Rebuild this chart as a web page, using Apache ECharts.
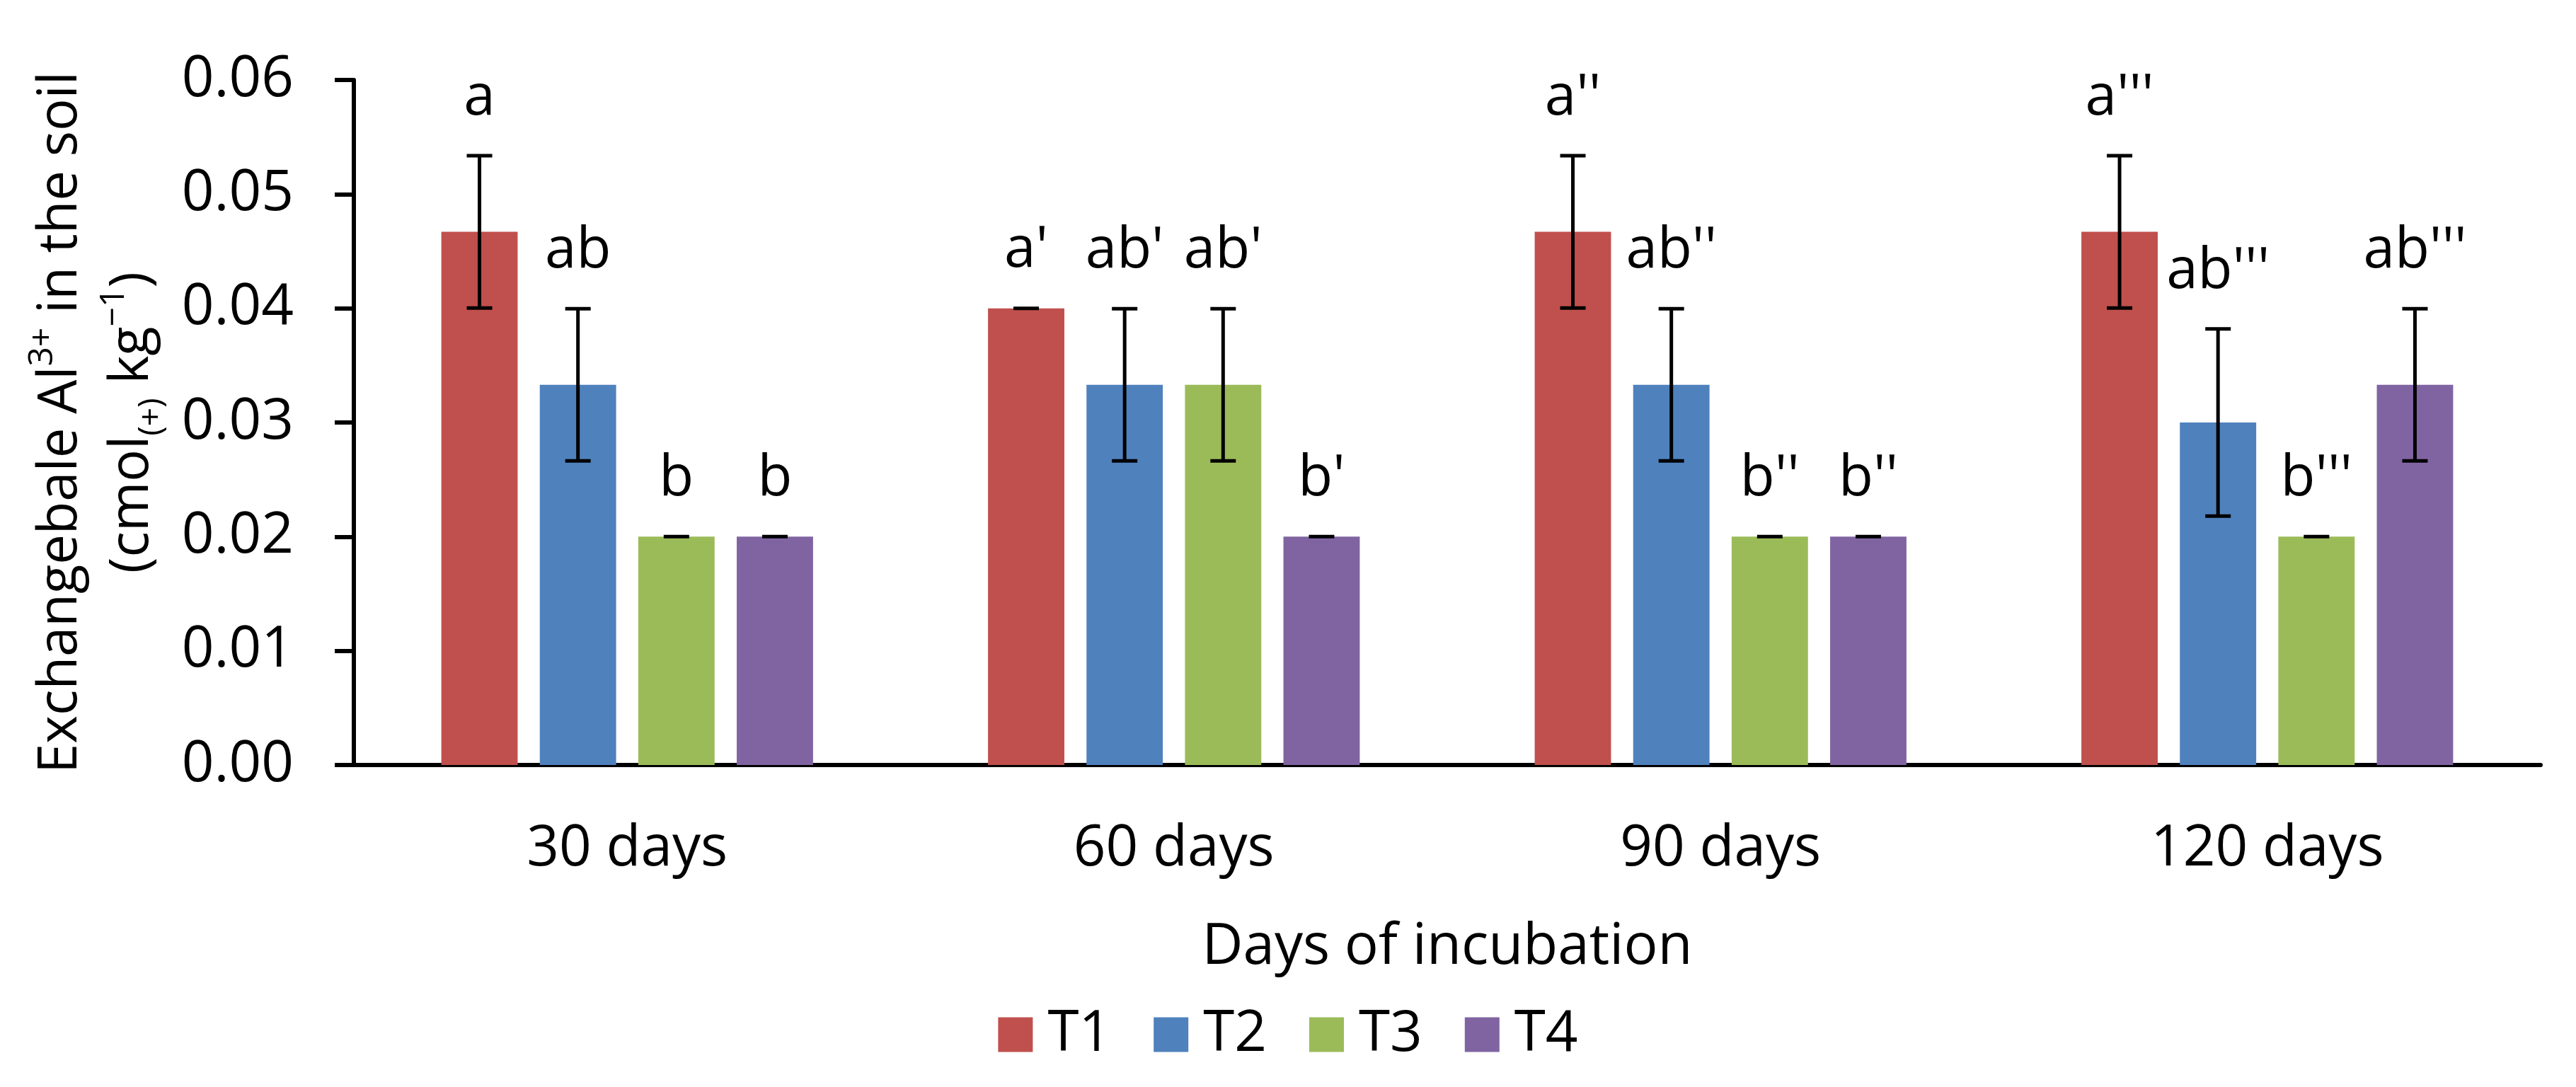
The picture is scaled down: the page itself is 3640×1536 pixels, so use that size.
<!DOCTYPE html>
<html>
<head>
<meta charset="utf-8">
<script src="https://cdn.jsdelivr.net/npm/echarts@6/dist/echarts.min.js"></script>
<style>
html,body{margin:0;padding:0;background:#fff;}
#c{width:3640px;height:1536px;}
</style>
</head>
<body>
<div id="c"></div>
<script>
const categories = ['30 days', '60 days', '90 days', '120 days'];
const seriesNames = ['T1', 'T2', 'T3', 'T4'];
const t1Values = [0.0467, 0.0400, 0.0467, 0.0467];
const t2Values = [0.0333, 0.0333, 0.0333, 0.0300];
const t3Values = [0.0200, 0.0333, 0.0200, 0.0200];
const t4Values = [0.0200, 0.0200, 0.0200, 0.0333];
const t1Errors = [0.00667, 0, 0.00667, 0.00667];
const t2Errors = [0.00667, 0.00667, 0.00667, 0.0082];
const t3Errors = [0, 0.00667, 0, 0];
const t4Errors = [0, 0, 0, 0.00667];
const t1Letters = ["a", "a'", "a''", "a'''"];
const t2Letters = ["ab", "ab'", "ab''", "ab'''"];
const t3Letters = ["b", "ab'", "b''", "b'''"];
const t4Letters = ["b", "b'", "b''", "ab'''"];
const yTicks = [0, 0.01, 0.02, 0.03, 0.04, 0.05, 0.06];

const colors = ['#C0504D', '#4F81BD', '#9BBB59', '#8064A2'];
const allValues = [t1Values, t2Values, t3Values, t4Values];
const allErrors = [t1Errors, t2Errors, t3Errors, t4Errors];
const allLetters = [t1Letters, t2Letters, t3Letters, t4Letters];

const FONT = "'Open Sans', 'Noto Sans', sans-serif";
const CAT_GAP = 0.32, BAR_GAP = 0.29, N = 4;

const chart = echarts.init(document.getElementById('c'));

const series = [];
seriesNames.forEach((name, i) => {
  series.push({
    name: name,
    type: 'bar',
    data: allValues[i],
    itemStyle: { color: colors[i] },
    barCategoryGap: (CAT_GAP * 100) + '%',
    barGap: (BAR_GAP * 100) + '%',
    animation: false
  });
});
seriesNames.forEach((name, i) => {
  series.push({
    name: 'err' + name,
    type: 'custom',
    data: categories.map((c, j) => [j, allValues[i][j], allErrors[i][j], allLetters[i][j]]),
    encode: { x: 0, y: 1 },
    z: 10,
    silent: true,
    animation: false,
    renderItem: function (params, api) {
      const idx = api.value(0);
      const v = api.value(1);
      const e = api.value(2);
      const letter = allLetters[i][params.dataIndex];
      const band = api.size([1, 0])[0];
      const remained = band * (1 - CAT_GAP);
      const w = remained / (N + (N - 1) * BAR_GAP);
      const off = -remained / 2 + w / 2 + i * w * (1 + BAR_GAP);
      const hi = api.coord([idx, v + e]);
      const lo = api.coord([idx, v - e]);
      const cx = hi[0] + off;
      const cap = 18;
      const st = { stroke: '#000', lineWidth: 5 };
      const children = [];
      if (e > 0) {
        children.push({ type: 'line', shape: { x1: cx, y1: hi[1], x2: cx, y2: lo[1] }, style: st });
        children.push({ type: 'line', shape: { x1: cx - cap, y1: lo[1], x2: cx + cap, y2: lo[1] }, style: st });
      }
      children.push({ type: 'line', shape: { x1: cx - cap, y1: hi[1], x2: cx + cap, y2: hi[1] }, style: st });
      children.push({
        type: 'text',
        x: cx,
        y: hi[1] - 41,
        style: {
          text: letter,
          fill: '#000',
          font: '80px ' + FONT,
          textAlign: 'center',
          textVerticalAlign: 'bottom'
        }
      });
      return { type: 'group', children: children };
    }
  });
});

const option = {
  backgroundColor: '#ffffff',
  animation: false,
  textStyle: { fontFamily: FONT },
  grid: { left: 500, right: 50, top: 113, bottom: 455, containLabel: false },
  legend: {
    data: seriesNames,
    left: 'center',
    top: 1417,
    icon: 'rect',
    itemWidth: 49,
    itemHeight: 49,
    itemGap: 60,
    textStyle: { fontSize: 80, color: '#000', fontFamily: FONT, padding: [0, 0, 0, 16] }
  },
  xAxis: {
    type: 'category',
    data: categories,
    axisLine: { show: true, lineStyle: { color: '#000', width: 6 } },
    axisTick: { show: false },
    axisLabel: { fontSize: 80, color: '#000', margin: 79, fontFamily: FONT },
    name: 'Days of incubation',
    nameLocation: 'middle',
    nameGap: 218,
    nameTextStyle: { fontSize: 80, color: '#000', fontFamily: FONT },
    splitLine: { show: false }
  },
  yAxis: {
    type: 'value',
    min: yTicks[0],
    max: yTicks[yTicks.length - 1],
    interval: 0.01,
    axisLine: { show: true, lineStyle: { color: '#000', width: 6 } },
    axisTick: { show: true, inside: false, length: 27, lineStyle: { color: '#000', width: 6 } },
    axisLabel: { fontSize: 80, color: '#000', margin: 85, fontFamily: FONT, formatter: v => v.toFixed(2) },
    splitLine: { show: false },
    name: '{a|Exchangebale Al}{sup|3+}{a| in the soil}\n{a|(cmol}{sub|(+)}{a| kg}{sup|−1}{a|)}',
    nameLocation: 'middle',
    nameRotate: 90,
    nameGap: 262,
    nameTextStyle: {
      color: '#000',
      fontFamily: FONT,
      rich: {
        a: { fontSize: 76, lineHeight: 101, color: '#000', fontFamily: FONT, verticalAlign: 'middle' },
        sup: { fontSize: 48, lineHeight: 48, color: '#000', fontFamily: FONT, verticalAlign: 'top' },
        sub: { fontSize: 46, lineHeight: 46, color: '#000', fontFamily: FONT, verticalAlign: 'bottom' }
      }
    }
  },
  series: series
};
chart.setOption(option);
</script>
</body>
</html>
